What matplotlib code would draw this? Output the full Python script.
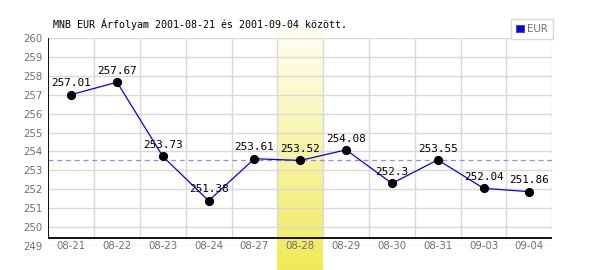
import numpy as np
import matplotlib
matplotlib.use("Agg")
import matplotlib.pyplot as plt
import matplotlib.patches as mpatches

# --- Data ---
dates = ["08-21", "08-22", "08-23", "08-24", "08-27", "08-28",
         "08-29", "08-30", "08-31", "09-03", "09-04"]
rates = [257.01, 257.67, 253.73, 251.38, 253.61, 253.52,
         254.08, 252.3, 253.55, 252.04, 251.86]
highlight_idx = 5
ref_value = rates[highlight_idx]
y_ticks = list(range(249, 261))

# --- Figure ---
fig = plt.figure(figsize=(6, 2.7), dpi=100)
ax = fig.add_axes([48.3 / 600, 24.4 / 270, 504 / 600, 207.3 / 270])
ax.set_facecolor("white")

x = np.arange(len(dates))

# highlighted day: vertical gradient column (extends past the axes)
top_c = np.array([255, 255, 244]) / 255
bot_c = np.array([240, 234, 88]) / 255
t = np.linspace(0, 1, 256)[:, None]
grad = (top_c * (1 - t) + bot_c * t)[:, None, :]
ax.imshow(grad, extent=(highlight_idx - 0.5, highlight_idx + 0.5, 247.7, 260.53),
          aspect="auto", origin="upper", zorder=0, clip_on=False,
          interpolation="bilinear")
ax.set_xlim(-0.5, len(dates) - 0.5)
ax.set_ylim(249, 260)

# grid
for yv in y_ticks:
    ax.axhline(yv, color="#d9d9d9", lw=1.0, zorder=1)
for xv in np.arange(-0.5, len(dates) + 0.5, 1):
    ax.plot([xv, xv], [249.39, 260], color="#d9d9d9", lw=1.0, zorder=1)

for s in ax.spines.values():
    s.set_visible(False)
ax.axhline(249.39, color="black", lw=1.3, zorder=3)
ax.plot([-0.5, -0.5], [249.39, 260], color="black", lw=1.3, zorder=3)

# reference (dashed) line
ax.axhline(ref_value, color="#8c8cff", lw=0.9, ls=(0, (4, 3)), zorder=2)

# series
ax.plot(x, rates, color="#0000ff", lw=0.9, zorder=4)
ax.plot(x, rates, "o", color="black", ms=5.6, zorder=5)
for xi, v in zip(x, rates):
    ax.annotate(f"{v:g}", (xi, v), xytext=(0, 4.5), textcoords="offset points",
                ha="center", va="bottom", fontsize=7.9, family="DejaVu Sans Mono",
                color="black", zorder=6)

# ticks
ax.set_yticks(y_ticks)
ax.set_xticks(x)
ax.set_xticklabels(dates)
ax.tick_params(axis="both", length=0, labelsize=7.3, labelcolor="#707070")
ax.tick_params(axis="y", pad=4)
ax.tick_params(axis="x", pad=0)
for lbl in ax.get_xticklabels():
    lbl.set_va("center")

# title
fig.text(53 / 600, 1 - 23.5 / 270, "MNB EUR Árfolyam 2001-08-21 és 2001-09-04 között.",
         ha="left", va="center", fontsize=7.2, family="DejaVu Sans Mono", color="black")

# legend
handle = mpatches.Patch(facecolor="#0000ff", edgecolor="#555555", lw=0.8, label="EUR")
leg = fig.legend(handles=[handle], loc="upper right",
                 bbox_to_anchor=(553 / 600, 1 - 19 / 270),
                 fontsize=7.3, frameon=True, fancybox=False,
                 edgecolor="#d9d9d9", framealpha=1,
                 handlelength=0.8, handleheight=0.8, handletextpad=0.3,
                 borderpad=0.5, borderaxespad=0)
for txt in leg.get_texts():
    txt.set_color("#707070")

fig.savefig("out.png", dpi=100)
